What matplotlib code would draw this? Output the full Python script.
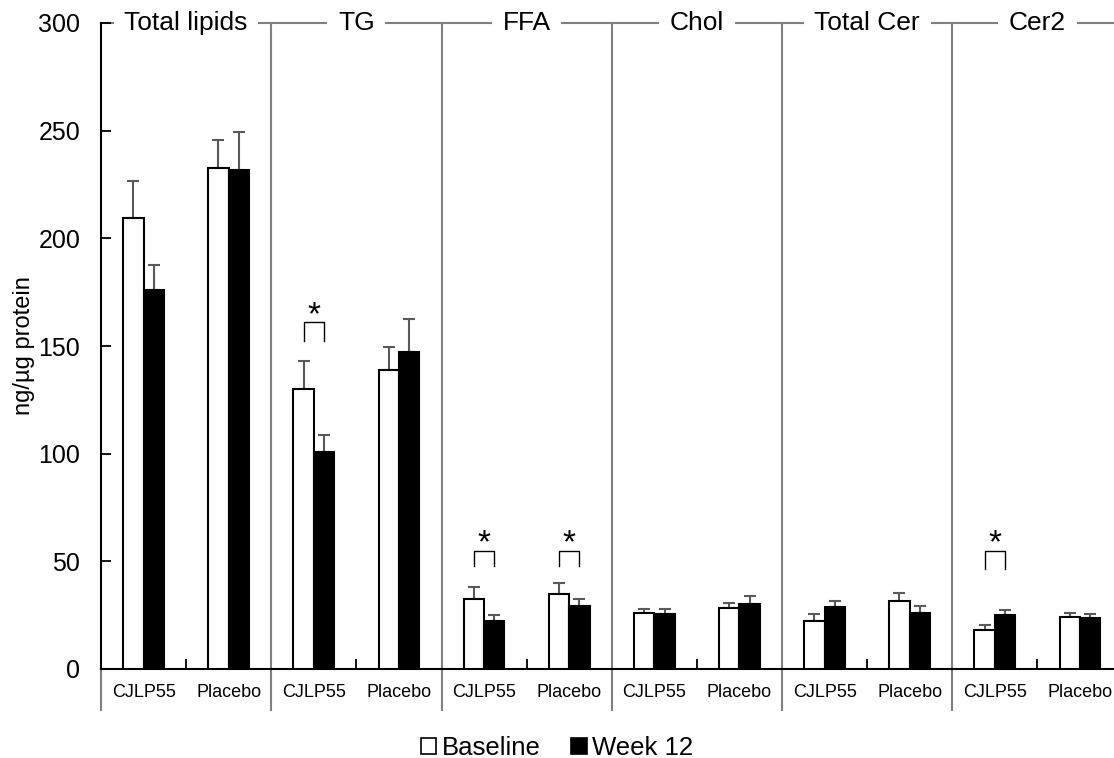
import numpy as np
import matplotlib.pyplot as plt
from matplotlib.patches import Patch

plt.rcParams['font.family'] = ['Liberation Sans', 'DejaVu Sans']

# groups and categories
groups = ["Total lipids", "TG", "FFA", "Chol", "Total Cer", "Cer2"]
treatments = ["CJLP55", "Placebo"]

# values, order: group by group, CJLP55 then Placebo
baseline = [209.5, 232.7, 130.0, 138.9, 32.3, 34.8, 25.9, 28.3, 22.4, 31.4, 18.1, 24.0]
baseline_err = [17.2, 13.0, 13.2, 10.8, 5.6, 5.0, 1.8, 2.5, 3.1, 3.8, 2.2, 2.1]
week12 = [176.0, 231.8, 100.9, 147.4, 22.4, 29.3, 25.4, 30.3, 28.9, 26.1, 25.2, 23.5]
week12_err = [11.6, 17.8, 7.8, 15.0, 2.6, 3.2, 2.6, 3.7, 2.8, 3.2, 2.2, 2.2]

# significance brackets: category index, leg bottom, bracket top
sig_cat = [2, 4, 5, 10]
sig_low = [152.5, 47.8, 47.8, 46.3]
sig_high = [161.0, 54.8, 54.8, 55.0]

n = len(baseline)
x = np.arange(n) + 0.5
w = 0.24
gray = "#808080"

fig = plt.figure(figsize=(11.14, 7.58), dpi=100)
ax = fig.add_axes([101/1114, 89/758, 1 - 101/1114, (669-23)/758])

ax.bar(x - w/2, baseline, w, color="white", edgecolor="black", linewidth=1.5, zorder=3)
ax.bar(x + w/2, week12, w, color="black", edgecolor="black", linewidth=1.5, zorder=3)
ax.errorbar(x - w/2, baseline, yerr=[np.zeros(n), baseline_err], fmt="none",
            ecolor="#595959", elinewidth=1.5, capsize=4.5, capthick=1.5, zorder=2)
ax.errorbar(x + w/2, week12, yerr=[np.zeros(n), week12_err], fmt="none",
            ecolor="#595959", elinewidth=1.5, capsize=4.5, capthick=1.5, zorder=2)

# significance
for c, lo, hi in zip(sig_cat, sig_low, sig_high):
    xs = [x[c] - w/2, x[c] - w/2, x[c] + w/2, x[c] + w/2]
    ax.plot(xs, [lo, hi, hi, lo], color="black", linewidth=1.0, zorder=4)
    ax.text(x[c], hi - 4, "*", ha="center", va="bottom", fontsize=24, zorder=4)

ax.set_xlim(0, 11.9)
ax.set_ylim(0, 300)
ax.set_yticks([0, 50, 100, 150, 200, 250, 300])
ax.tick_params(axis="y", direction="in", length=7, width=1.3, labelsize=18, pad=15)
ax.set_ylabel("ng/µg protein", fontsize=17, labelpad=2)

# small ticks between the two treatments of a group
ax.set_xticks(np.arange(1, n, 2))
ax.set_xticklabels([])
ax.tick_params(axis="x", direction="in", length=7, width=1.3)
ax.set_xticks(x, minor=True)
ax.set_xticklabels(treatments * len(groups), minor=True, fontsize=13)
ax.tick_params(axis="x", which="minor", length=0, pad=11)

for s in ["top", "right"]:
    ax.spines[s].set_visible(False)
ax.spines["left"].set_linewidth(1.5)
ax.spines["bottom"].set_linewidth(1.5)

# group separators and top line
ax.axhline(300, color=gray, linewidth=1.5, zorder=1, clip_on=False)
for g in range(len(groups) + 1):
    gx = 2 * g
    if gx > 0:
        ax.plot([gx, gx], [0, 300], color=gray, linewidth=1.5, zorder=1, clip_on=False)
    ax.plot([gx, gx], [0, -19], color=gray, linewidth=1.5, zorder=1, clip_on=False)

for g, name in enumerate(groups):
    ax.text(2 * g + 1, 300, name, ha="center", va="center", fontsize=19, zorder=5,
            bbox=dict(boxstyle="square,pad=0.4", facecolor="white", edgecolor="none"))

handles = [Patch(facecolor="white", edgecolor="black", linewidth=1.2, label="Baseline"),
           Patch(facecolor="black", edgecolor="black", linewidth=1.2, label="Week 12")]
fig.legend(handles=handles, loc="lower center", bbox_to_anchor=(0.5, -0.033), ncol=2,
           frameon=False, fontsize=18.5, handlelength=0.6, handleheight=0.6,
           handletextpad=0.2, columnspacing=1.2)

fig.savefig("out.png", dpi=100)
